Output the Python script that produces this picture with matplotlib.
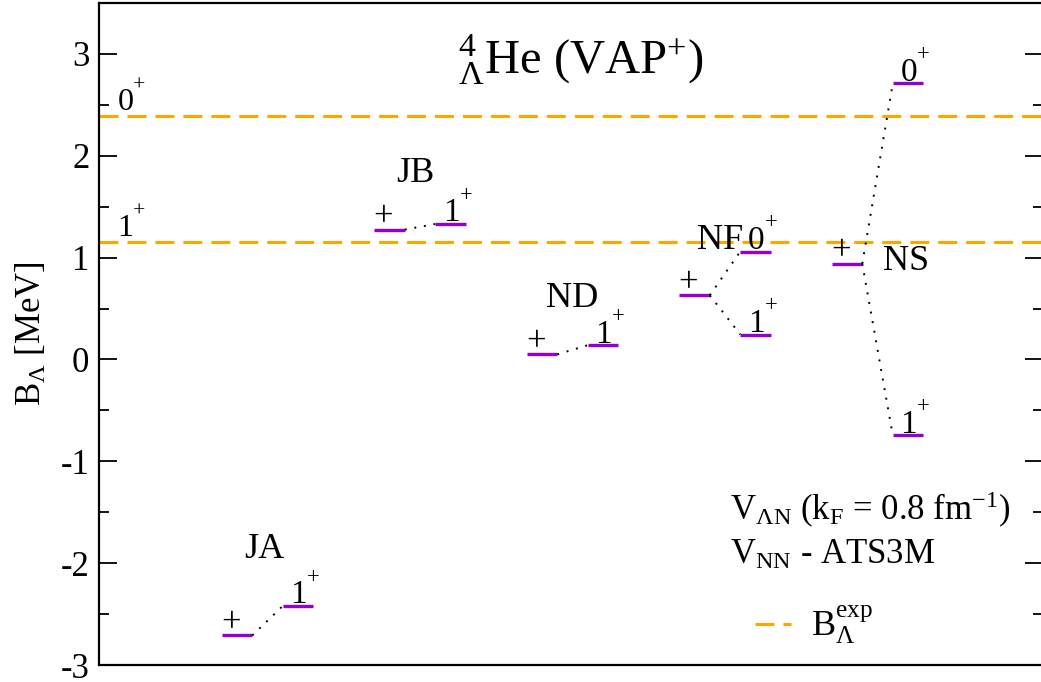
import matplotlib
matplotlib.use("Agg")
import matplotlib.pyplot as plt
from matplotlib.ticker import MultipleLocator
from matplotlib.lines import Line2D

plt.rcParams['font.family'] = ['Liberation Serif', 'DejaVu Serif']
plt.rcParams['mathtext.fontset'] = 'custom'
plt.rcParams['mathtext.rm'] = 'Liberation Serif'
plt.rcParams['mathtext.it'] = 'Liberation Serif'
plt.rcParams['mathtext.bf'] = 'Liberation Serif'
plt.rcParams['axes.unicode_minus'] = False

# ---- data ----
groups = ["JA", "JB", "ND", "NF", "NS"]
base_energy = [-2.71, 1.275, 0.05, 0.63, 0.94]          # "+" (projected) level
split_spins = [["1"], ["1"], ["1"], ["0", "1"], ["0", "1"]]
split_energy = [[-2.42], [1.33], [0.14], [1.06, 0.245], [2.71, -0.745]]
exp_spins = ["0", "1"]
exp_energy = [2.39, 1.15]

# group label placement (offset relative to group x, absolute y)
group_label_dx = [0.18, 0.17, 0.20, 0.17, 0.39]
group_label_y = [-1.87, 1.83, 0.60, 1.17, 0.96]

fig = plt.figure(figsize=(10.41, 6.82), dpi=100)
ax = fig.add_axes([99/1041, 17/682, (1043-99)/1041, (665-3)/682])

ax.set_xlim(0.095, 6.285)
ax.set_ylim(-3, 3.5)

purple = '#9400D3'
orange = '#FFA500'
hw = 0.1
off = 0.4


def spin_label(x, y, spin, size=24):
    ax.text(x, y, spin, fontsize=size, ha='left', va='baseline')
    ax.annotate("+", xy=(x, y), xycoords='data', xytext=(0.5 * size, 0.62 * size),
                textcoords='offset points', fontsize=0.68 * size, ha='left', va='baseline')


# experimental lines
for e, s in zip(exp_energy, exp_spins):
    ax.axhline(e, color=orange, lw=2.2, dashes=(6.2, 2.95))
    spin_label(0.215, e + 0.06, s, size=23)

for i, g in enumerate(groups):
    x0 = i + 1
    eb = base_energy[i]
    ax.plot([x0 - hw, x0 + hw], [eb, eb], color=purple, lw=2.4, solid_capstyle='butt')
    ax.text(x0 - hw - 0.005, eb + 0.035, "+", fontsize=25, ha='left', va='baseline')
    for s, e in zip(split_spins[i], split_energy[i]):
        x1 = x0 + off
        ax.plot([x0 + hw, x1 - hw], [eb, e], color='black', lw=1.4, ls=(0, (1, 4)))
        ax.plot([x1 - hw, x1 + hw], [e, e], color=purple, lw=2.4, solid_capstyle='butt')
        spin_label(x1 - hw + 0.05, e + 0.025, s, size=24)
    ax.text(x0 + group_label_dx[i], group_label_y[i], g, fontsize=26, ha='center', va='center')

ax.text(0.51, 0.915, r"${}^{4}_{\Lambda}$He (VAP$^{+}$)", transform=ax.transAxes,
        fontsize=35, ha='center', va='center')

ax.text(0.668, 0.234, r"V$_{\Lambda\mathrm{N}}$ (k$_{\mathrm{F}}$ = 0.8 fm$^{-1}$)",
        transform=ax.transAxes, fontsize=25, ha='left', va='center')
ax.text(0.668, 0.166, r"V$_{\mathrm{NN}}$ - ATS3M",
        transform=ax.transAxes, fontsize=25, ha='left', va='center')

handle = Line2D([], [], color=orange, lw=2.2, dashes=(6.2, 2.95))
leg = ax.legend([handle], [r"B$_{\Lambda}^{\mathrm{exp}}$"], loc='center left',
                bbox_to_anchor=(0.695, 0.06), frameon=False, fontsize=26,
                handlelength=1.0, handletextpad=0.55, borderaxespad=0, borderpad=0)

ax.set_ylabel(r"B$_{\Lambda}$ [MeV]", fontsize=25, labelpad=8)
ax.yaxis.set_major_locator(MultipleLocator(1))
ax.yaxis.set_minor_locator(MultipleLocator(0.5))
ax.tick_params(axis='y', which='both', direction='in', left=True, right=True,
               labelsize=25, width=1.3)
ax.tick_params(axis='y', which='major', length=13, pad=7)
ax.tick_params(axis='y', which='minor', length=7)
ax.tick_params(axis='x', which='both', bottom=False, top=False, labelbottom=False)
for s in ax.spines.values():
    s.set_linewidth(1.6)

fig.savefig("out.png", dpi=100)
